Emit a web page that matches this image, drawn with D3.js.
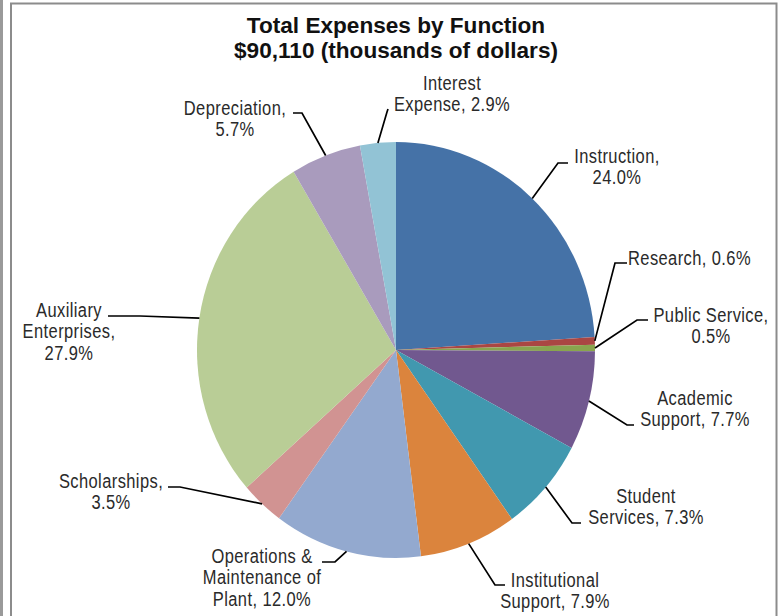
<!DOCTYPE html>
<html>
<head>
<meta charset="utf-8">
<script src="https://cdn.jsdelivr.net/npm/d3@7"></script>
<style>
  html, body { margin: 0; padding: 0; background: #fff; }
  svg { display: block; font-family: "Liberation Sans", Arial, sans-serif; }
</style>
</head>
<body>
<svg id="chart" width="783" height="616"></svg>
<script>
// Expense shares by function, clockwise from 12 o'clock
const categories = [
  'Instruction', 'Research', 'Public Service', 'Academic Support',
  'Student Services', 'Institutional Support', 'Operations & Maintenance of Plant',
  'Scholarships', 'Auxiliary Enterprises', 'Depreciation', 'Interest Expense'
];
const shares = [24.0, 0.6, 0.5, 7.7, 7.3, 7.9, 12.0, 3.5, 27.9, 5.7, 2.9];
const colors = [
  '#4572a7', '#aa4643', '#89a54e', '#71588f', '#4198af', '#db843d',
  '#93a9cf', '#d19392', '#b9cd96', '#a99bbd', '#92c3d5'
];
// how each data label wraps (text as printed in the original)
const labelLines = [
  ['Instruction,', '24.0%'],
  ['Research, 0.6%'],
  ['Public Service,', '0.5%'],
  ['Academic', 'Support, 7.7%'],
  ['Student', 'Services, 7.3%'],
  ['Institutional', 'Support, 7.9%'],
  ['Operations &', 'Maintenance of', 'Plant, 12.0%'],
  ['Scholarships,', '3.5%'],
  ['Auxiliary', 'Enterprises,', '27.9%'],
  ['Depreciation,', '5.7%'],
  ['Interest', 'Expense, 2.9%']
];
const titleLines = ['Total Expenses by Function', '$90,110 (thousands of dollars)'];

// label placement: text anchor point + leader elbow / end
const labelLayout = [
  { x: 617, y: 163, anchor: 'middle', elbow: [558, 163], end: [568, 163] },
  { x: 628, y: 265, anchor: 'start',  elbow: [615, 263], end: [627, 263] },
  { x: 711, y: 322, anchor: 'middle', elbow: [637, 320], end: [648, 320] },
  { x: 695, y: 405, anchor: 'middle', elbow: [627, 425], end: [634, 425] },
  { x: 646, y: 503, anchor: 'middle', elbow: [572, 523], end: [581, 523] },
  { x: 555, y: 587, anchor: 'middle', elbow: [495, 585], end: [505, 585] },
  { x: 262, y: 563, anchor: 'middle', elbow: [335, 562], end: [322, 562] },
  { x: 111, y: 488, anchor: 'middle', elbow: [180, 487], end: [168, 487] },
  { x: 69,  y: 317, anchor: 'middle', elbow: [140, 316], end: [108, 316] },
  { x: 235, y: 115, anchor: 'middle', elbow: [302, 113], end: [293, 113] },
  { x: 452, y: 90,  anchor: 'middle', elbow: [387, 112], end: [388, 109] }
];

const svg = d3.select('#chart');
const cx = 396, cy = 350, r = 199, sy = 1.045;

// frame
svg.append('rect').attr('x', 0).attr('y', 0).attr('width', 3).attr('height', 616).attr('fill', '#9a9a9a');
svg.append('rect')
  .attr('x', 11).attr('y', 3.5).attr('width', 765.5).attr('height', 640)
  .attr('fill', '#fff').attr('stroke', '#8c8c8c').attr('stroke-width', 2);

// title
svg.append('g').selectAll('text')
  .data(titleLines).join('text')
  .attr('x', 396).attr('y', (d, i) => 33 + i * 25)
  .attr('text-anchor', 'middle')
  .attr('font-size', 22.6).attr('font-weight', 'bold').attr('fill', '#111')
  .text(d => d);

const pie = d3.pie().sort(null).value(d => d);
const arcs = pie(shares);
const arc = d3.arc().innerRadius(0).outerRadius(r);

svg.append('g')
  .attr('transform', `translate(${cx},${cy}) scale(1,${sy})`)
  .selectAll('path')
  .data(arcs).join('path')
  .attr('d', arc)
  .attr('fill', (d, i) => colors[i]);

// leader lines: from slice edge at mid-angle to the label
const edgePoint = a => [cx + r * Math.sin(a), cy - r * sy * Math.cos(a)];
svg.append('g').selectAll('polyline')
  .data(arcs).join('polyline')
  .attr('points', (d, i) => {
    const p = edgePoint((d.startAngle + d.endAngle) / 2);
    const L = labelLayout[i];
    return [p, L.elbow, L.end].map(q => q.join(',')).join(' ');
  })
  .attr('fill', 'none').attr('stroke', '#000').attr('stroke-width', 1.7);

// labels
const lab = svg.append('g').selectAll('g')
  .data(labelLines).join('g')
  .attr('transform', (d, i) => `translate(${labelLayout[i].x},${labelLayout[i].y}) scale(1,1.2)`);

lab.selectAll('text')
  .data((d, i) => d.map(t => ({ t, anchor: labelLayout[i].anchor })))
  .join('text')
  .attr('x', 0).attr('y', (d, j) => j * 21.5 / 1.2)
  .attr('text-anchor', d => d.anchor)
  .attr('font-size', 16.5).attr('letter-spacing', 0.4).attr('fill', '#2a2a2a')
  .text(d => d.t);
</script>
</body>
</html>
